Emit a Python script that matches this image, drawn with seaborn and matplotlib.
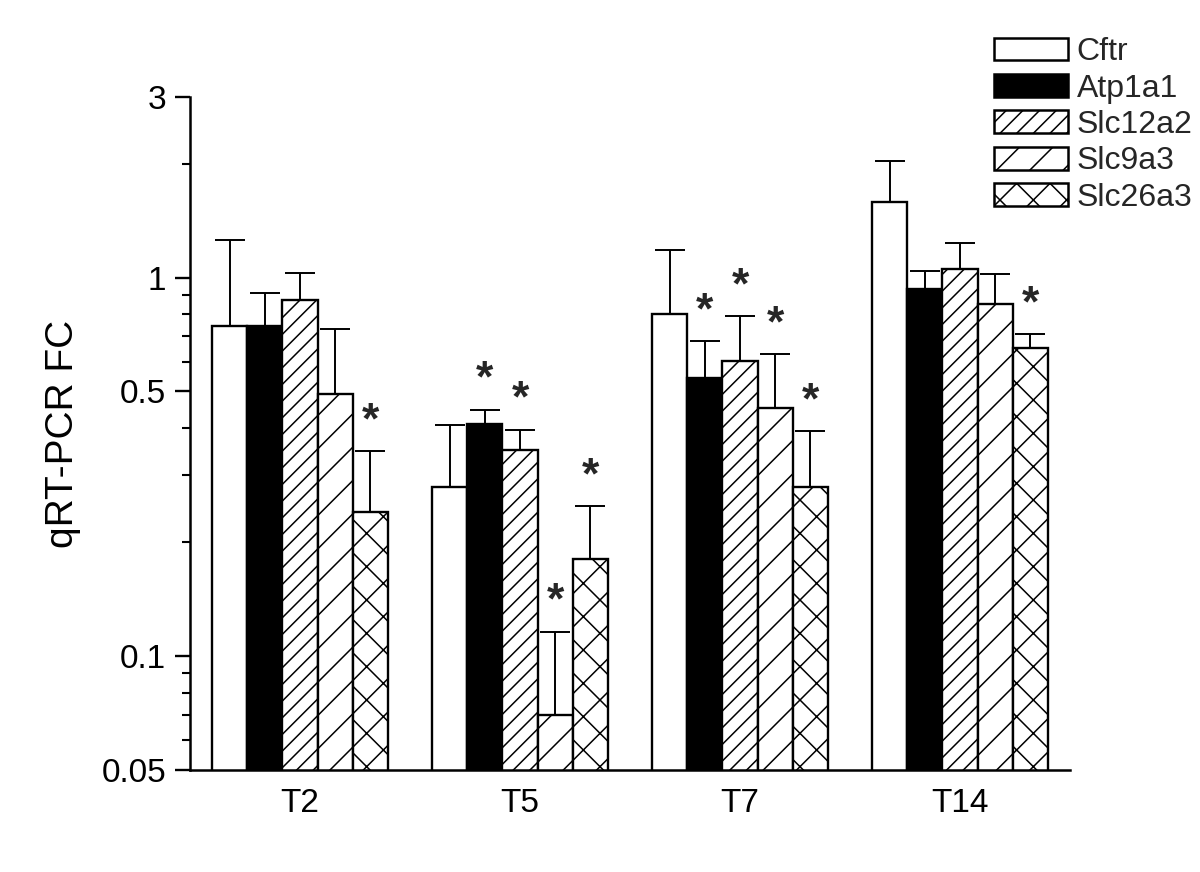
import matplotlib
matplotlib.use("Agg")
import matplotlib.pyplot as plt
import seaborn as sns
import numpy as np
import pandas as pd
from matplotlib.patches import Patch
from matplotlib.ticker import FixedLocator, NullFormatter

# ---------------- data ----------------
timepoints = ["T2", "T5", "T7", "T14"]
genes = ["Cftr", "Atp1a1", "Slc12a2", "Slc9a3", "Slc26a3"]

cftr = [0.745, 0.280, 0.801, 1.584]
atp1a1 = [0.745, 0.410, 0.543, 0.933]
slc12a2 = [0.872, 0.350, 0.602, 1.054]
slc9a3 = [0.493, 0.0699, 0.452, 0.851]
slc26a3 = [0.240, 0.181, 0.280, 0.652]

cftr_err = [0.512, 0.128, 0.382, 0.446]
atp1a1_err = [0.165, 0.037, 0.137, 0.108]
slc12a2_err = [0.156, 0.046, 0.189, 0.180]
slc9a3_err = [0.238, 0.046, 0.176, 0.170]
slc26a3_err = [0.108, 0.068, 0.113, 0.057]

cftr_sig = [False, False, False, False]
atp1a1_sig = [False, True, True, False]
slc12a2_sig = [False, True, True, False]
slc9a3_sig = [False, True, True, False]
slc26a3_sig = [True, True, True, True]

yticks = [0.05, 0.1, 0.5, 1, 3]
ytick_labels = ["0.05", "0.1", "0.5", "1", "3"]
ylabel = "qRT-PCR FC"

values = [cftr, atp1a1, slc12a2, slc9a3, slc26a3]
errors = [cftr_err, atp1a1_err, slc12a2_err, slc9a3_err, slc26a3_err]
sigs = [cftr_sig, atp1a1_sig, slc12a2_sig, slc9a3_sig, slc26a3_sig]

facecolors = ["white", "black", "white", "white", "white"]
hatches = ["", "", "//", "/", "x"]

rows = []
for g, vals in zip(genes, values):
    for t, v in zip(timepoints, vals):
        rows.append({"time": t, "gene": g, "fc": v})
df = pd.DataFrame(rows)

# ---------------- figure ----------------
sns.set_style("ticks")
plt.rcParams["font.family"] = ["Liberation Sans", "DejaVu Sans"]
plt.rcParams["hatch.linewidth"] = 1.1
plt.rcParams["hatch.color"] = "black"

fig = plt.figure(figsize=(12, 8.72), dpi=100)
ax = fig.add_axes([0.1583, 0.117, 0.7334, 0.7718])

sns.barplot(data=df, x="time", y="fc", hue="gene", order=timepoints,
            hue_order=genes, palette=facecolors, saturation=1,
            edgecolor="black", linewidth=1.7, errorbar=None, width=0.8,
            legend=False, ax=ax)

ax.set_yscale("log")
ax.set_ylim(0.05, 3)
ax.set_xlim(-0.5, 3.5)

bar_containers = list(ax.containers)
for j, cont in enumerate(bar_containers):
    xs = []
    for p in cont.patches:
        p.set_hatch(hatches[j])
        p.set_edgecolor("black")
        xs.append(p.get_x() + p.get_width() / 2)
    xs = np.array(xs)
    vals = np.array(values[j])
    errs = np.array(errors[j])
    ax.errorbar(xs, vals, yerr=[np.zeros_like(errs), errs], fmt="none",
                ecolor="black", elinewidth=1.4, capsize=10.5, capthick=1.4,
                zorder=1)
    for x, v, e, s in zip(xs, vals, errs, sigs[j]):
        if s:
            ax.annotate("*", xy=(x, v + e), xytext=(0, 6.5),
                        textcoords="offset points", ha="center", va="bottom",
                        fontsize=32, fontweight="bold")

ax.yaxis.set_major_locator(FixedLocator(yticks))
ax.set_yticklabels(ytick_labels)
minor = [0.06, 0.07, 0.08, 0.09, 0.2, 0.3, 0.4, 0.6, 0.7, 0.8, 0.9, 2]
ax.yaxis.set_minor_locator(FixedLocator(minor))
ax.yaxis.set_minor_formatter(NullFormatter())

ax.tick_params(axis="y", which="major", length=11, width=1.7, labelsize=24,
               pad=6, direction="out", colors="black")
ax.tick_params(axis="y", which="minor", length=6, width=1.5, direction="out",
               colors="black")
ax.tick_params(axis="x", which="major", length=0, labelsize=24, pad=13,
               colors="black")

ax.set_xlabel("")
ax.set_ylabel(ylabel, fontsize=28, labelpad=15, color="black")

for side in ["top", "right"]:
    ax.spines[side].set_visible(False)
for side in ["left", "bottom"]:
    ax.spines[side].set_linewidth(1.8)
    ax.spines[side].set_color("black")

handles = [Patch(facecolor=fc, edgecolor="black", hatch=h, linewidth=1.8)
           for fc, h in zip(facecolors, hatches)]
fig.legend(handles, genes, loc="upper left", bbox_to_anchor=(0.818, 0.972),
           frameon=False, fontsize=23, handlelength=2.3, handleheight=0.72,
           labelspacing=0.2, handletextpad=0.28, borderaxespad=0)

fig.savefig("out.png", dpi=100)
